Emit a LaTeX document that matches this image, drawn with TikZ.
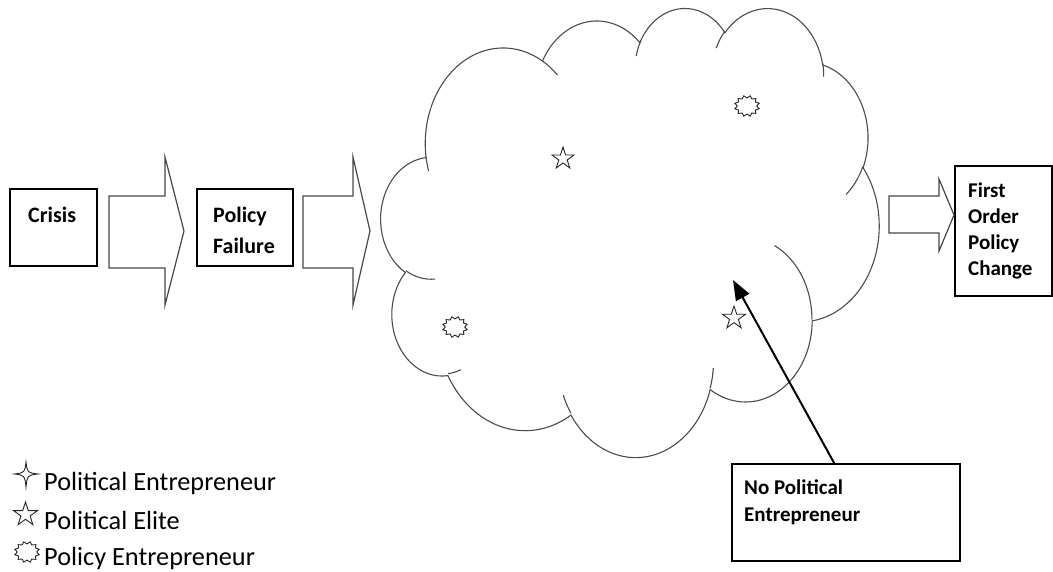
\documentclass[tikz,border=0pt]{standalone}
\usepackage{fontspec}
\setmainfont{Carlito}
\usetikzlibrary{shapes.geometric,arrows.meta}

% convert an OOXML visual arc angle pair into TikZ parametric angles
\newcommand\cloudang[5]{%
  \pgfmathsetmacro\cloudtmpS{atan2((#2)*sin(#4),(#3)*cos(#4))}%
  \pgfmathsetmacro\cloudtmpE{atan2((#2)*sin((#4)+(#5)),(#3)*cos((#4)+(#5)))}%
  \pgfmathsetmacro\cloudtmpE{(\cloudtmpS)+mod((\cloudtmpE)-(\cloudtmpS)+720,360)}%
  \expandafter\let\csname clds#1\endcsname\cloudtmpS
  \expandafter\let\csname clde#1\endcsname\cloudtmpE
}

\begin{document}
\begin{tikzpicture}[x=1pt,y=1pt,yscale=-1,
  boxnode/.style={draw=black, line width=1.4pt, inner sep=0pt, fill=white},
  boxtext/.style={anchor=north west, inner sep=0pt, align=left},
  blockarrow/.style={draw=black!72, line width=1.2pt, fill=white, line join=miter},
  cloudline/.style={draw=black!70, line width=1.1pt, fill=white},
  legendtext/.style={anchor=base west, inner sep=0pt, font=\fontsize{26.3}{30}\selectfont},
  pstar/.style={star, star points=5, star point ratio=2.6, draw=black!85, line width=0.9pt, inner sep=0pt, minimum size=#1},
  burst/.style={star, star points=12, star point ratio=1.3, draw=black!85, line width=0.9pt, inner sep=0pt, minimum size=#1},
  pointer/.style={draw=black, line width=2pt, -{Triangle[length=20pt,width=15pt]}}
]
\useasboundingbox (0,0) rectangle (1053,571);

% ---------- boxes ----------
\node[boxnode, minimum width=87, minimum height=77] (crisis) at (53.5,227.5) {};
\node[boxnode, minimum width=96, minimum height=77] (failure) at (245,227.5) {};
\node[boxnode, minimum width=97, minimum height=130] (change) at (1003.5,231) {};

\node[boxtext, font=\fontsize{22}{27}\selectfont\bfseries] (crisistext) at (28,203.1) {\strut Crisis};
\node[boxtext, font=\fontsize{22}{31}\selectfont\bfseries] (failuretext) at (213,200.3) {\strut Policy\\Failure};
\node[boxtext, font=\fontsize{21}{26}\selectfont\bfseries] (changetext) at (968,178.8) {\strut First\\Order\\Policy\\Change};

% ---------- block arrows ----------
\path[blockarrow] (109,196) -- (165,196) -- (165,157) -- (184,231) -- (165,305) -- (165,268) -- (109,268) -- cycle;
\path[blockarrow] (303,196) -- (353,196) -- (353,157) -- (370,231) -- (353,305) -- (353,268) -- (303,268) -- cycle;
\path[blockarrow] (889,196) -- (939,196) -- (939,179) -- (954,215) -- (939,251) -- (939,233) -- (889,233) -- cycle;

% ---------- cloud ----------
\cloudang{A}{6753}{9190}{-190.487483}{123.780533}
\cloudang{B}{5333}{7267}{-144.102383}{89.945233}
\cloudang{C}{4365}{5945}{-145.807917}{99.723017}
\cloudang{D}{4857}{6595}{-130.986067}{117.241733}
\cloudang{E}{5333}{7273}{-78.708883}{109.026917}
\cloudang{F}{6775}{9220}{-46.26725}{130.269}
\cloudang{G}{5785}{7867}{0.625017}{114.033333}
\cloudang{H}{6752}{9215}{22.4516}{115.17255}
\cloudang{I}{7720}{10543}{66.242633}{75.711017}
\cloudang{J}{4360}{5918}{-274.942083}{146.735567}
\cloudang{K}{4345}{5945}{-246.8285}{152.51885}
\cloudang{a}{4345}{5945}{86.742}{26.4295}
\cloudang{b}{4360}{5918}{73.61047}{11.44747}
\cloudang{c}{6752}{9215}{137.62415}{14.0811}
\cloudang{d}{6752}{9215}{6.45327}{15.99835}
\cloudang{e}{5785}{7867}{-70.29235}{70.91737}
\cloudang{f}{5333}{7273}{30.31803}{27.7515}
\cloudang{g}{4857}{6595}{-13.74433}{14.8589}
\cloudang{h}{4857}{6595}{-149.18145}{18.19537}
\cloudang{i}{4365}{5945}{-163.49427}{19.01097}
\cloudang{j}{6753}{9190}{-66.70695}{12.31935}
\cloudang{k}{6753}{9190}{157.65435}{11.85817}

\begin{scope}[shift={(381,7)}, xscale=0.1152778, yscale=0.1039352]
  \path[cloudline] (390,1437)
    arc[start angle=\cldsA, end angle=\cldeA, x radius=675.3, y radius=919]
    arc[start angle=\cldsB, end angle=\cldeB, x radius=533.3, y radius=726.7]
    arc[start angle=\cldsC, end angle=\cldeC, x radius=436.5, y radius=594.5]
    arc[start angle=\cldsD, end angle=\cldeD, x radius=485.7, y radius=659.5]
    arc[start angle=\cldsE, end angle=\cldeE, x radius=533.3, y radius=727.3]
    arc[start angle=\cldsF, end angle=\cldeF, x radius=677.5, y radius=922]
    arc[start angle=\cldsG, end angle=\cldeG, x radius=578.5, y radius=786.7]
    arc[start angle=\cldsH, end angle=\cldeH, x radius=675.2, y radius=921.5]
    arc[start angle=\cldsI, end angle=\cldeI, x radius=772, y radius=1054.3]
    arc[start angle=\cldsJ, end angle=\cldeJ, x radius=436, y radius=591.8]
    arc[start angle=\cldsK, end angle=\cldeK, x radius=434.5, y radius=594.5]
    -- cycle;
  \draw[draw=black!70, line width=1.1pt]
    (469.3,2617.7) arc[start angle=\cldsa, end angle=\cldea, x radius=434.5, y radius=594.5]
    (692.8,3489.9) arc[start angle=\cldsb, end angle=\cldeb, x radius=436, y radius=591.8]
    (1647.8,3909) arc[start angle=\cldsc, end angle=\cldec, x radius=675.2, y radius=921.5]
    (2882.7,3475.1) arc[start angle=\cldsd, end angle=\clded, x radius=675.2, y radius=921.5]
    (3412.9,2295.4) arc[start angle=\cldse, end angle=\cldee, x radius=578.5, y radius=786.7]
    (4179.8,1535.4) arc[start angle=\cldsf, end angle=\cldef, x radius=533.3, y radius=727.3]
    (3832.4,542.6) arc[start angle=\cldsg, end angle=\cldeg, x radius=485.7, y radius=659.5]
    (2907.8,395.2) arc[start angle=\cldsh, end angle=\cldeh, x radius=485.7, y radius=659.5]
    (2214.1,472) arc[start angle=\cldsi, end angle=\cldei, x radius=436.5, y radius=594.5]
    (1400,519.2) arc[start angle=\cldsj, end angle=\cldej, x radius=675.3, y radius=919]
    (412.7,1578.9) arc[start angle=\cldsk, end angle=\cldek, x radius=675.3, y radius=919];
\end{scope}

% actors inside the cloud
\node[pstar=23] (elite1) at (563,158.6) {};
\node[pstar=24] (elite2) at (734,318) {};
\node[burst=21, xscale=1.2, rotate=15] (pe1) at (747,106) {};
\node[burst=21, xscale=1.2, rotate=15] (pe2) at (455,327) {};

% ---------- no political entrepreneur ----------
\node[boxnode, minimum width=228, minimum height=97] (nope) at (846,512.5) {};
\node[boxtext, font=\fontsize{21}{27}\selectfont\bfseries] (nopetext) at (744,475.1) {\strut No Political\\Entrepreneur};
\coordinate (tip) at (733,280);
\draw[pointer] ([xshift=103pt]nope.north west) -- (tip);

% ---------- legend ----------
\draw[draw=black!85, line width=0.9pt, fill=white]
  (26,462) .. controls (27.3,472.7) .. (38,474)
           .. controls (27.3,475.3) .. (26,487)
           .. controls (24.7,475.3) .. (14.5,474)
           .. controls (24.7,472.7) .. cycle;
\node[pstar=25] (legstar) at (25.5,514.5) {};
\node[burst=21, xscale=1.2, rotate=15] (legburst) at (27,552) {};
\node[legendtext] (leg1) at (44,490) {Political Entrepreneur};
\node[legendtext] (leg2) at (44,529) {Political Elite};
\node[legendtext] (leg3) at (44,565) {Policy Entrepreneur};
\end{tikzpicture}
\end{document}
